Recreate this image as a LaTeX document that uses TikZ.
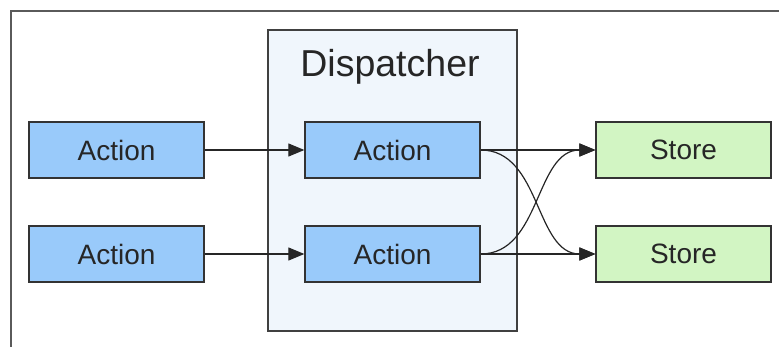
\documentclass[tikz,border=0pt]{standalone}
\usepackage{fontspec}
\setmainfont{Liberation Sans}
\usetikzlibrary{arrows.meta}
\definecolor{actionblue}{RGB}{153,202,250}
\definecolor{storegreen}{RGB}{210,245,195}
\definecolor{dispfill}{RGB}{240,246,252}
\definecolor{framegray}{RGB}{90,90,90}
\begin{document}
\begin{tikzpicture}[x=1pt,y=-1pt]
	\tikzstyle{box}=[rectangle,draw=black!80,line width=1.3pt,minimum width=175pt,minimum height=56pt,inner sep=0pt,font=\fontsize{28}{32}\selectfont,text=black!85]
	\tikzstyle{action}=[box,fill=actionblue]
	\tikzstyle{store}=[box,fill=storegreen]
	\tikzstyle{flow}=[-{Triangle[length=16pt,width=13pt]},line width=1.2pt,draw=black!85]
	\useasboundingbox (0,0) rectangle (779,347);
	% outer frame
	\draw[framegray,line width=2pt] (11,347) -- (11,11) -- (779,11);
	% dispatcher
	\node[rectangle,draw=black!75,line width=1.3pt,fill=dispfill,minimum width=249pt,minimum height=301pt] (disp) at (392.5,180.5) {};
	\node[font=\fontsize{37.5}{42}\selectfont,text=black!85] (disptitle) at (390,67) {Dispatcher};
	\node[action] (a1) at (116.5,150) {Action};
	\node[action] (a2) at (116.5,254) {Action};
	\node[action] (d1) at (392.5,150) {Action};
	\node[action] (d2) at (392.5,254) {Action};
	\node[store] (s1) at (683.5,150) {Store};
	\node[store] (s2) at (683.5,254) {Store};
	\draw[flow] (a1) -- (d1);
	\draw[flow] (a2) -- (d2);
	\draw[flow] (d1) -- (s1);
	\draw[flow] (d2) -- (s2);
	\draw[flow] (d1.east) to[out=0,in=180] (s2.west);
	\draw[flow] (d2.east) to[out=0,in=180] (s1.west);
\end{tikzpicture}
\end{document}
